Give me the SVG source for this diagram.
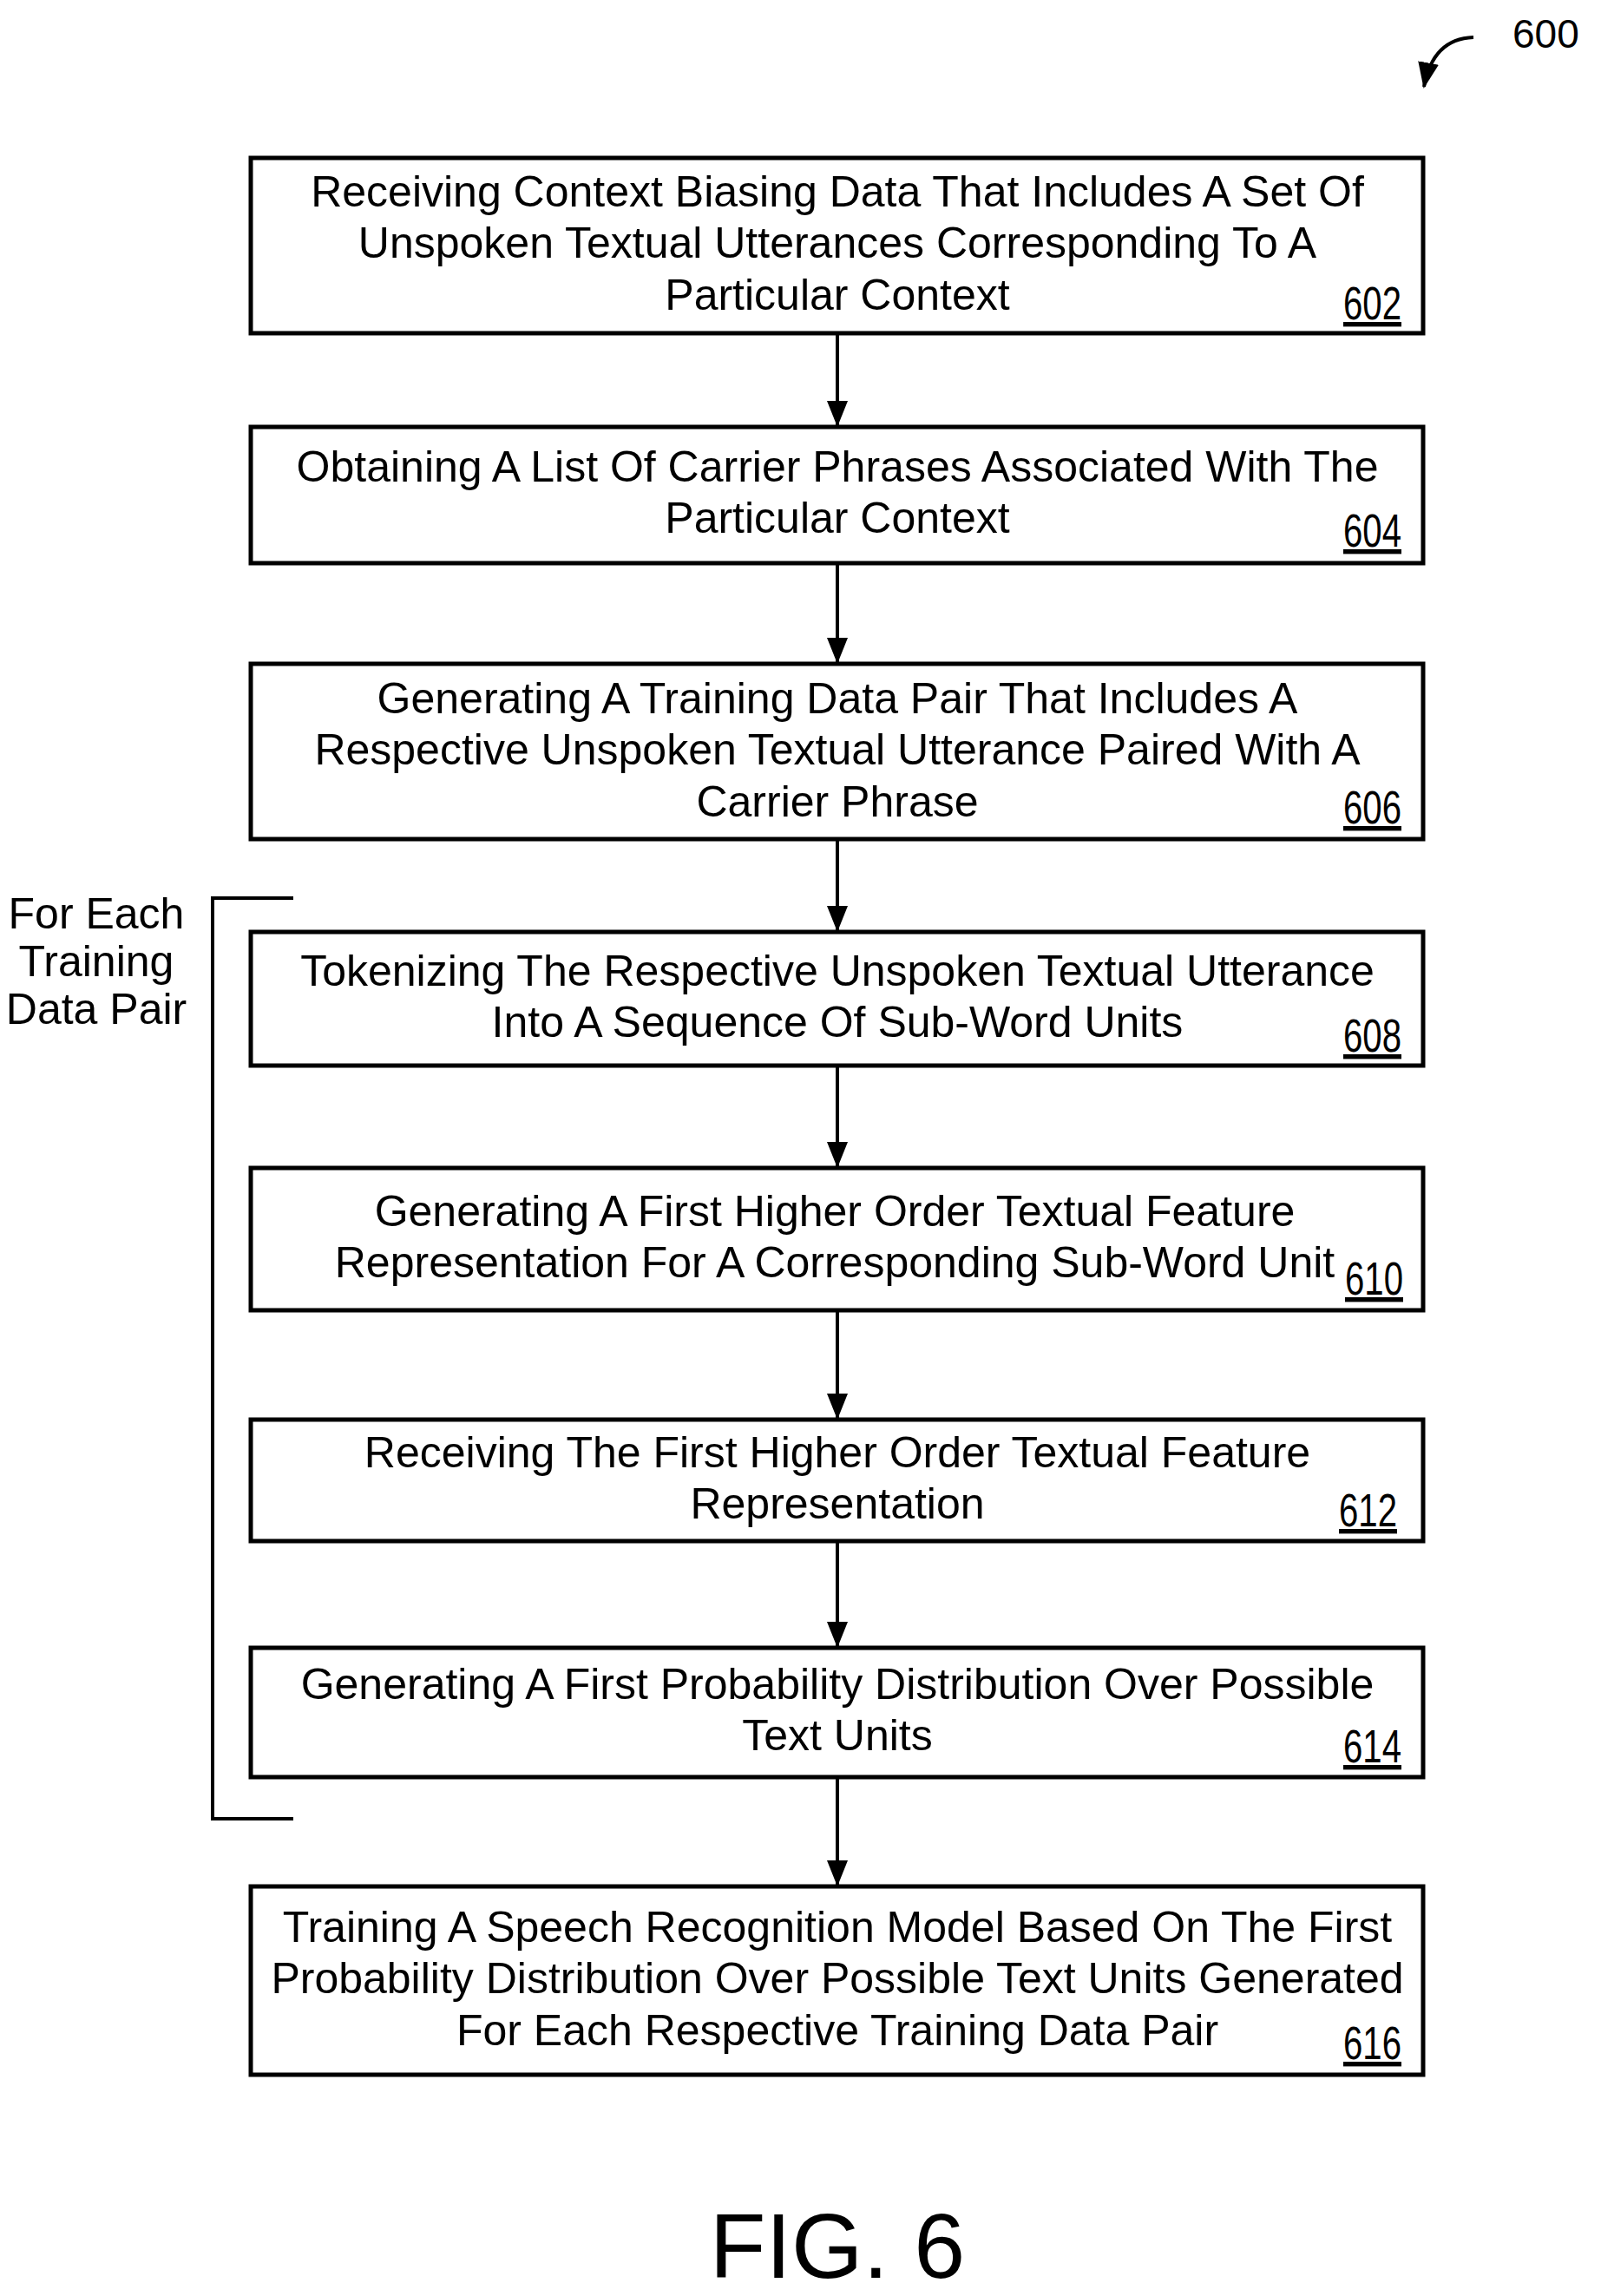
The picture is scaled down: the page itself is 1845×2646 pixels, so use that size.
<svg xmlns="http://www.w3.org/2000/svg" width="1845" height="2646" viewBox="0 0 1845 2646">
<style>
.b{fill:#fff;stroke:#000;stroke-width:5}
.t{font-family:"Liberation Sans",Arial,sans-serif;font-size:50px;text-anchor:middle;fill:#000}
.n{font-family:"Liberation Sans",Arial,sans-serif;font-size:54px;text-decoration:underline;fill:#000}
.c{stroke:#000;stroke-width:4;fill:none}
</style>
<defs>
<marker id="ah" viewBox="0 0 30 24" refX="28" refY="12" markerWidth="30" markerHeight="24" orient="auto" markerUnits="userSpaceOnUse"><path d="M0,0L30,12L0,24z"/></marker></defs>
<rect width="1845" height="2646" fill="#fff"/>
<g id="ref600"><text x="1743" y="55" font-family="Liberation Sans,Arial,sans-serif" font-size="46">600</text>
<path class="c" d="M1698,43C1668,44 1648,62 1641,100" marker-end="url(#ah)"/></g>
<g id="connectors">
<line class="c" x1="965" y1="384" x2="965" y2="490" marker-end="url(#ah)"/>
<line class="c" x1="965" y1="649" x2="965" y2="763" marker-end="url(#ah)"/>
<line class="c" x1="965" y1="967" x2="965" y2="1072" marker-end="url(#ah)"/>
<line class="c" x1="965" y1="1228" x2="965" y2="1344" marker-end="url(#ah)"/>
<line class="c" x1="965" y1="1510" x2="965" y2="1634" marker-end="url(#ah)"/>
<line class="c" x1="965" y1="1776" x2="965" y2="1897" marker-end="url(#ah)"/>
<line class="c" x1="965" y1="2048" x2="965" y2="2172" marker-end="url(#ah)"/>
</g>
<g id="n602"><rect class="b" x="289" y="182" width="1351" height="202"/>
<text class="t" x="965" y="238">Receiving Context Biasing Data That Includes A Set Of</text>
<text class="t" x="965" y="297">Unspoken Textual Utterances Corresponding To A</text>
<text class="t" x="965" y="357">Particular Context</text>
<text class="n" x="1548" y="368" textLength="67" lengthAdjust="spacingAndGlyphs">602</text></g>
<g id="n604"><rect class="b" x="289" y="492" width="1351" height="157"/>
<text class="t" x="965" y="555">Obtaining A List Of Carrier Phrases Associated With The</text>
<text class="t" x="965" y="614">Particular Context</text>
<text class="n" x="1548" y="630" textLength="67" lengthAdjust="spacingAndGlyphs">604</text></g>
<g id="n606"><rect class="b" x="289" y="765" width="1351" height="202"/>
<text class="t" x="965" y="822">Generating A Training Data Pair That Includes A</text>
<text class="t" x="965" y="881">Respective Unspoken Textual Utterance Paired With A</text>
<text class="t" x="965" y="941">Carrier Phrase</text>
<text class="n" x="1548" y="949" textLength="67" lengthAdjust="spacingAndGlyphs">606</text></g>
<g id="n608"><rect class="b" x="289" y="1074" width="1351" height="154"/>
<text class="t" x="965" y="1136">Tokenizing The Respective Unspoken Textual Utterance</text>
<text class="t" x="965" y="1195">Into A Sequence Of Sub-Word Units</text>
<text class="n" x="1548" y="1212" textLength="67" lengthAdjust="spacingAndGlyphs">608</text></g>
<g id="n610"><rect class="b" x="289" y="1346" width="1351" height="164"/>
<text class="t" x="962" y="1413">Generating A First Higher Order Textual Feature</text>
<text class="t" x="962" y="1472">Representation For A Corresponding Sub-Word Unit</text>
<text class="n" x="1550" y="1492" textLength="67" lengthAdjust="spacingAndGlyphs">610</text></g>
<g id="n612"><rect class="b" x="289" y="1636" width="1351" height="140"/>
<text class="t" x="965" y="1691">Receiving The First Higher Order Textual Feature</text>
<text class="t" x="965" y="1750">Representation</text>
<text class="n" x="1543" y="1759" textLength="67" lengthAdjust="spacingAndGlyphs">612</text></g>
<g id="n614"><rect class="b" x="289" y="1899" width="1351" height="149"/>
<text class="t" x="965" y="1958">Generating A First Probability Distribution Over Possible</text>
<text class="t" x="965" y="2017">Text Units</text>
<text class="n" x="1548" y="2031" textLength="67" lengthAdjust="spacingAndGlyphs">614</text></g>
<g id="n616"><rect class="b" x="289" y="2174" width="1351" height="217"/>
<text class="t" x="965" y="2238">Training A Speech Recognition Model Based On The First</text>
<text class="t" x="965" y="2297">Probability Distribution Over Possible Text Units Generated</text>
<text class="t" x="965" y="2357">For Each Respective Training Data Pair</text>
<text class="n" x="1548" y="2373" textLength="67" lengthAdjust="spacingAndGlyphs">616</text></g>
<g id="loop"><path class="c" d="M338,1035H245V2096H338"/>
<text class="t" x="111" y="1070" font-size="40">For Each</text>
<text class="t" x="111" y="1125" font-size="40">Training</text>
<text class="t" x="111" y="1180" font-size="40">Data Pair</text></g>
<text x="965" y="2625" font-family="Liberation Sans,Arial,sans-serif" font-size="106" text-anchor="middle">FIG. 6</text>
</svg>
